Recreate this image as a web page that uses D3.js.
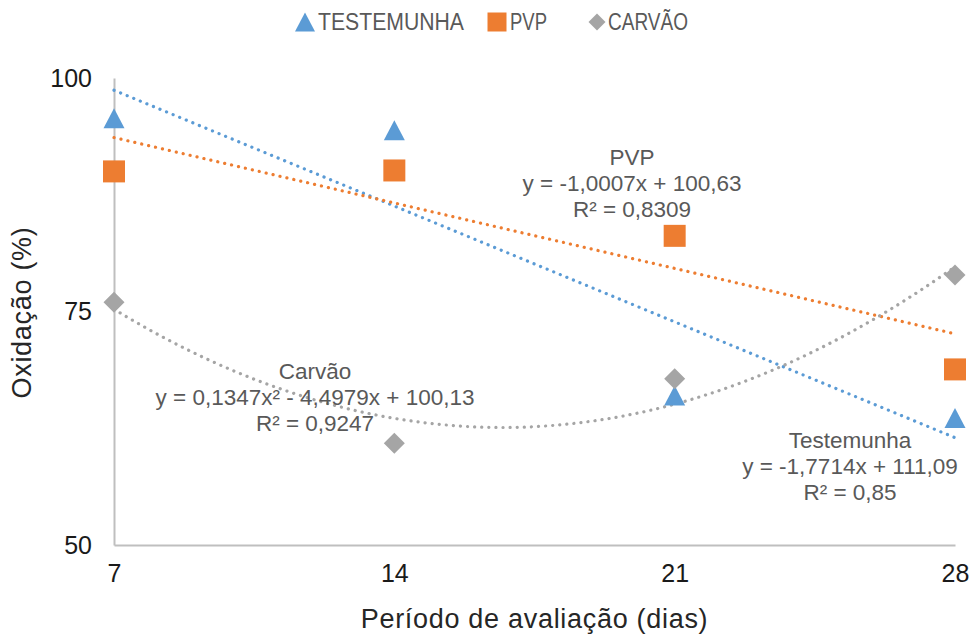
<!DOCTYPE html>
<html>
<head>
<meta charset="utf-8">
<script src="https://cdn.jsdelivr.net/npm/d3@7"></script>
<style>
  html, body { margin: 0; padding: 0; background: #fff; }
  svg { display: block; font-family: Arial, 'Liberation Sans', sans-serif; }
</style>
</head>
<body>
<div id="chart"></div>
<script>
(function () {
  'use strict';

  /* ── DATA ── */
  const DAYS        = [7, 14, 21, 28];
  const TESTEMUNHA  = [95.7, 94.4, 66.0, 63.6];
  const PVP         = [90.0, 90.1, 83.1, 68.8];
  const CARVAO      = [76.0, 60.9, 67.8, 78.9];
  const Y_TICKS     = [50, 75, 100];

  // trendline coefficients as printed on the chart: [c0, c1, c2]
  const TREND_TESTEMUNHA = [111.09, -1.7714, 0];
  const TREND_PVP        = [100.63, -1.0007, 0];
  const TREND_CARVAO     = [100.13, -4.4979, 0.1347];

  const LABEL_TESTEMUNHA = ['Testemunha', 'y = -1,7714x + 111,09', 'R² = 0,85'];
  const LABEL_PVP        = ['PVP', 'y = -1,0007x + 100,63', 'R² = 0,8309'];
  const LABEL_CARVAO     = ['Carvão', 'y = 0,1347x² - 4,4979x + 100,13', 'R² = 0,9247'];

  /* ── CONSTANTS ── */
  const W = 972, H = 634;
  const BLUE = '#5b9bd5', ORANGE = '#ed7d31', GRAY = '#a5a5a5';
  const AXIS = '#bfbfbf', TEXT = '#595959', DARK = '#262626';

  // Excel-like markers, centred on their bounding box (size arg = half width)
  const TRI = { draw(ctx, r) { const h = r * 0.95; ctx.moveTo(0, -h); ctx.lineTo(r, h); ctx.lineTo(-r, h); ctx.closePath(); } };
  const SQR = { draw(ctx, r) { ctx.rect(-r, -r, 2 * r, 2 * r); } };
  const DIA = { draw(ctx, r) { ctx.moveTo(0, -r); ctx.lineTo(r, 0); ctx.lineTo(0, r); ctx.lineTo(-r, 0); ctx.closePath(); } };

  const SERIES = [
    { name: 'TESTEMUNHA', values: TESTEMUNHA, trend: TREND_TESTEMUNHA, color: BLUE,   type: TRI, r: 10.5, lr: 10,  label: LABEL_TESTEMUNHA, lx: 850, ly: 448 },
    { name: 'PVP',        values: PVP,        trend: TREND_PVP,        color: ORANGE, type: SQR, r: 11,   lr: 9.5, label: LABEL_PVP,        lx: 632, ly: 165 },
    { name: 'CARVÃO',     values: CARVAO,     trend: TREND_CARVAO,     color: GRAY,   type: DIA, r: 10.5, lr: 8.5, label: LABEL_CARVAO,     lx: 315, ly: 379 },
  ];

  const svg = d3.select('#chart').append('svg').attr('width', W).attr('height', H);

  const x = d3.scaleLinear().domain([7, 28]).range([114, 955]);
  const y = d3.scaleLinear().domain([50, 100]).range([545, 78]);

  /* axes */
  svg.append('g').attr('transform', `translate(0,${y(50)})`)
    .call(d3.axisBottom(x).tickValues(DAYS).tickSize(0).tickPadding(28))
    .call(ax => ax.select('.domain').attr('stroke', AXIS).attr('stroke-width', 2))
    .call(ax => ax.selectAll('text').attr('fill', '#1a1a1a').style('font-size', '25px')
      .attr('dy', '0.35em'));

  svg.append('g').attr('transform', `translate(${x(7)},0)`)
    .call(d3.axisLeft(y).tickValues(Y_TICKS).tickSize(0).tickPadding(22))
    .call(ax => ax.select('.domain').attr('stroke', AXIS).attr('stroke-width', 2))
    .call(ax => ax.selectAll('text').attr('fill', '#1a1a1a').style('font-size', '25px'));

  /* axis titles */
  svg.append('text').attr('x', (x(7) + x(28)) / 2).attr('y', 628)
    .attr('text-anchor', 'middle').attr('fill', DARK)
    .style('font-size', '27px').style('letter-spacing', '0.7px')
    .text('Período de avaliação (dias)');

  svg.append('text').attr('transform', `translate(31,${(y(50) + y(100)) / 2 + 1}) rotate(-90)`)
    .attr('text-anchor', 'middle').attr('fill', DARK)
    .style('font-size', '27px').style('letter-spacing', '0.7px')
    .text('Oxidação (%)');

  /* trendlines */
  const trendLine = d3.line().x(d => x(d[0])).y(d => y(d[1]));
  SERIES.forEach(s => {
    const [c0, c1, c2] = s.trend;
    const pts = d3.range(7, 28.001, 0.25).map(t => [t, c0 + c1 * t + c2 * t * t]);
    svg.append('path').datum(pts)
      .attr('fill', 'none').attr('stroke', s.color).attr('stroke-width', 3.2)
      .attr('stroke-linecap', 'round').attr('stroke-dasharray', '0.1 7')
      .attr('d', trendLine);
  });

  /* markers */
  SERIES.forEach(s => {
    svg.append('g').selectAll('path').data(s.values).join('path')
      .attr('transform', (v, i) => `translate(${x(DAYS[i])},${y(v)})`)
      .attr('d', d3.symbol().type(s.type).size(s.r))
      .attr('fill', s.color);
  });

  /* trendline labels */
  SERIES.forEach(s => {
    const t = svg.append('text').attr('text-anchor', 'middle').attr('fill', TEXT)
      .style('font-size', '22.5px');
    s.label.forEach((line, i) => {
      t.append('tspan').attr('x', s.lx).attr('y', s.ly + i * 26).text(line);
    });
  });

  /* legend */
  const LEG = [
    { mx: 305, tx: 318, w: 146 },
    { mx: 497, tx: 510, w: 37 },
    { mx: 597, tx: 608, w: 80 },
  ];
  SERIES.forEach((s, i) => {
    svg.append('path')
      .attr('transform', `translate(${LEG[i].mx},22)`)
      .attr('d', d3.symbol().type(s.type).size(s.lr)).attr('fill', s.color);
    svg.append('text').attr('x', LEG[i].tx).attr('y', 22).attr('dy', '0.36em')
      .attr('fill', TEXT).style('font-size', '23px')
      .attr('textLength', LEG[i].w).attr('lengthAdjust', 'spacingAndGlyphs')
      .text(s.name);
  });
})();
</script>
</body>
</html>
